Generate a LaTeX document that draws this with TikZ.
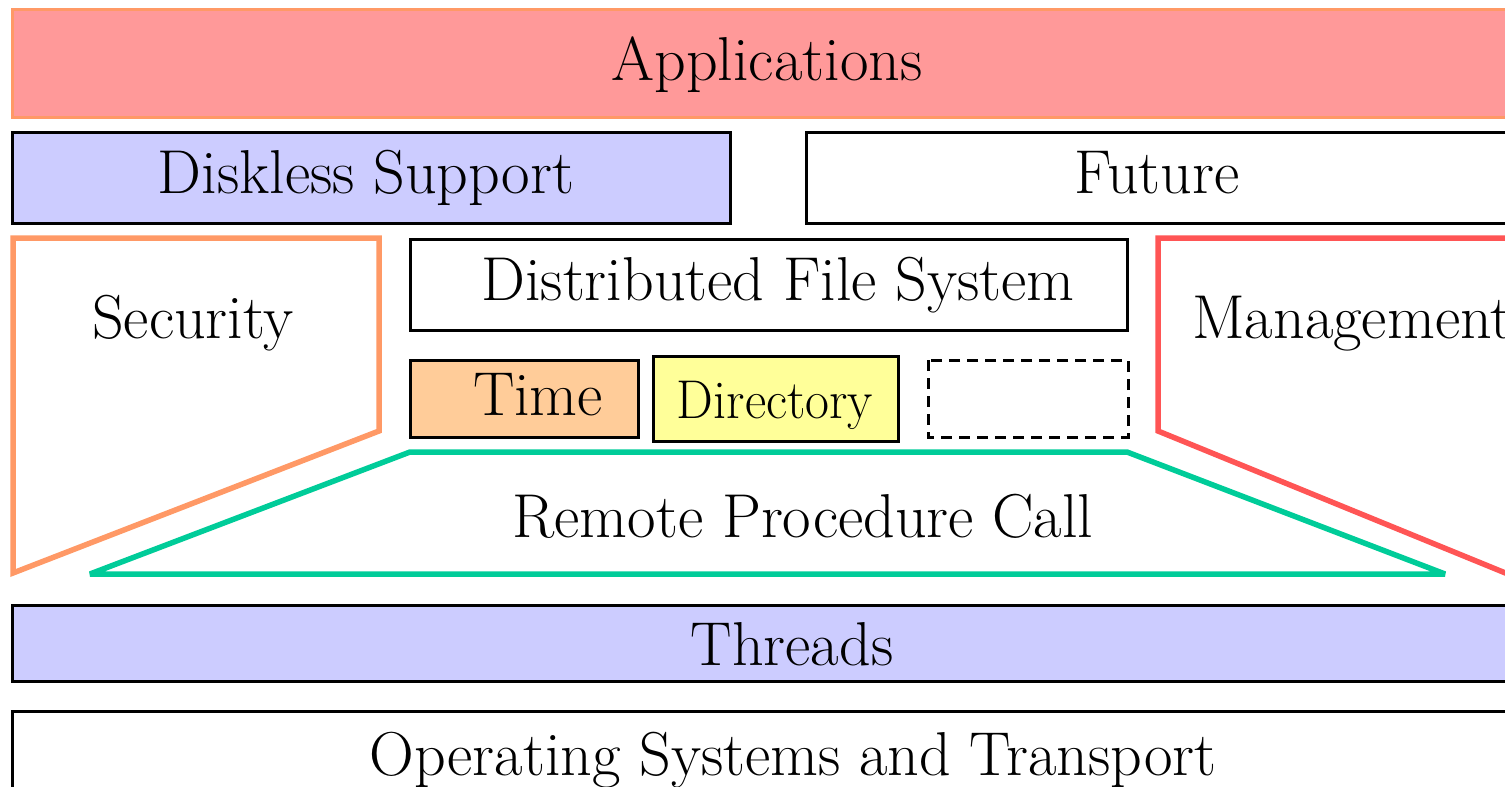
\documentclass[tikz,border=0pt]{standalone}
\begin{document}
\begin{tikzpicture}[x=1pt,y=-1pt,
  layer/.style={draw=black,line width=3pt},
  label/.style={anchor=base,inner sep=0pt,font=\fontsize{62}{62}\selectfont},
  small/.style={anchor=base,inner sep=0pt,font=\fontsize{52}{52}\selectfont},
  outline/.style={line width=5.5pt,line join=miter}]
\definecolor{appfill}{HTML}{FF9999}
\definecolor{appedge}{HTML}{FF9966}
\definecolor{lavender}{HTML}{CCCCFF}
\definecolor{secedge}{HTML}{FF9966}
\definecolor{mgmtedge}{HTML}{FF5555}
\definecolor{rpcedge}{HTML}{00CC99}
\definecolor{timefill}{HTML}{FFCC99}
\definecolor{dirfill}{HTML}{FFFF99}
\useasboundingbox (0,0) rectangle (1505,787);
\clip (0,0) rectangle (1505,787);

% top layer
\draw[fill=appfill,draw=appedge,line width=3pt] (12,9) rectangle (1520,117);
\node[label] (apps) at (767,80) {Applications};

% second layer
\draw[layer,fill=lavender] (12,132) rectangle (730,223);
\node[label] (diskless) at (366,193) {Diskless Support};
\draw[layer,fill=white] (806,132) rectangle (1520,223);
\node[label] (future) at (1157,193) {Future};

% side services
\draw[outline,draw=secedge] (13,238) -- (379,238) -- (379,431) -- (13,573) -- cycle;
\node[label] (security) at (193,338) {Security};
\draw[outline,draw=mgmtedge] (1158,238) -- (1525,238) -- (1525,581) -- (1158,431) -- cycle;
\node[label,anchor=base west] (mgmt) at (1192,338) {Management};

% core services
\draw[layer,fill=white] (410,239) rectangle (1127,330);
\node[label] (dfs) at (778,300) {Distributed File System};
\draw[layer,fill=timefill] (410,360) rectangle (638,437);
\node[label] (time) at (538,415) {Time};
\draw[layer,fill=dirfill] (653,356) rectangle (898,441);
\node[small,yscale=1.05] (dir) at (775,418) {Directory};
\draw[line width=3pt,dash pattern=on 11pt off 7pt] (928,360) rectangle (1128,437);
\coordinate (spare) at (1028,398);

% RPC
\draw[outline,draw=rpcedge,line join=bevel] (410,452) -- (1127,452) -- (1445,574) -- (90,574) -- cycle;
\node[label] (rpc) at (803,537) {Remote Procedure Call};

% lower layers
\draw[layer,fill=lavender] (12,605) rectangle (1520,681);
\node[label] (threads) at (792,665) {Threads};
\draw[layer,fill=white] (12,711) rectangle (1520,800);
\node[label] (os) at (793,775) {Operating Systems and Transport};
\end{tikzpicture}
\end{document}
